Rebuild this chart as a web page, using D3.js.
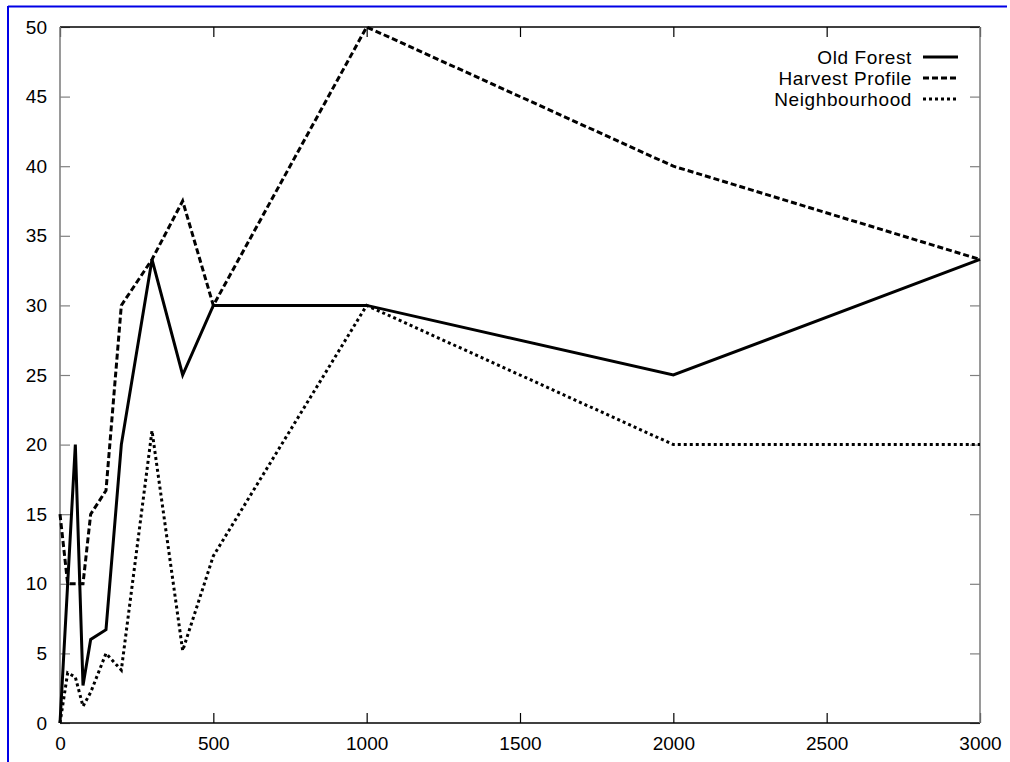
<!DOCTYPE html>
<html>
<head>
<meta charset="utf-8">
<script src="https://cdn.jsdelivr.net/npm/d3@7"></script>
<style>
  html, body { margin: 0; padding: 0; background: #fff; }
  svg { display: block; }
  text { font-family: "Liberation Sans", Arial, Helvetica, sans-serif; fill: #000; }
</style>
</head>
<body>
<svg id="chart" width="1010" height="762"></svg>
<script>
// Sample sizes along x, shared by all three series
const xValues = [0, 25, 50, 75, 100, 150, 200, 300, 400, 500, 1000, 2000, 3000];

const oldForest      = [0, 10, 20, 2.7, 6, 6.7, 20, 33.3, 25, 30, 30, 25, 33.3];
const harvestProfile = [15, 10, 10, 10, 15, 16.7, 30, 33.3, 37.5, 30, 50, 40, 33.3];
const neighbourhood  = [0, 3.6, 3.3, 1.2, 2.2, 5, 3.8, 21, 5.2, 12, 30, 20, 20];

const seriesNames = ["Old Forest", "Harvest Profile", "Neighbourhood"];
const xTicks = [0, 500, 1000, 1500, 2000, 2500, 3000];
const yTicks = [0, 5, 10, 15, 20, 25, 30, 35, 40, 45, 50];

(function draw() {
  const svg = d3.select("#chart");
  const H = 762;
  const mLeft = 60, mRight = 980, mTop = 27, mBottom = 723;
  const fontSize = 19;

  // frame lines in blue along the top and left edges
  svg.append("line").attr("x1", 8).attr("x2", 1007).attr("y1", 6.5).attr("y2", 6.5)
    .attr("stroke", "#0000e6").attr("stroke-width", 2);
  svg.append("line").attr("x1", 8).attr("x2", 8).attr("y1", 6).attr("y2", H)
    .attr("stroke", "#0000e6").attr("stroke-width", 2);

  const x = d3.scaleLinear().domain([0, 3000]).range([mLeft, mRight]);
  const y = d3.scaleLinear().domain([0, 50]).range([mBottom, mTop]);

  const tickLen = 10;

  // bottom axis: labels and inward ticks
  const gb = svg.append("g").attr("transform", `translate(0,${mBottom})`)
    .call(d3.axisBottom(x).tickValues(xTicks).tickSize(-tickLen).tickFormat(d3.format("d")));
  gb.select(".domain").remove();
  gb.selectAll(".tick line").attr("stroke", "#000").attr("stroke-width", 1.2);
  gb.selectAll(".tick text").attr("font-size", fontSize).attr("dy", "0.71em").attr("y", 14);

  // top axis: inward ticks only
  const gt = svg.append("g").attr("transform", `translate(0,${mTop})`)
    .call(d3.axisTop(x).tickValues(xTicks).tickSize(-tickLen).tickFormat(""));
  gt.select(".domain").remove();
  gt.selectAll(".tick line").attr("stroke", "#000").attr("stroke-width", 1.2);

  // left axis: labels and inward ticks
  const gl = svg.append("g").attr("transform", `translate(${mLeft},0)`)
    .call(d3.axisLeft(y).tickValues(yTicks).tickSize(-tickLen).tickFormat(d3.format("d")));
  gl.select(".domain").remove();
  gl.selectAll(".tick line").attr("stroke", "#808080").attr("stroke-width", 1.2);
  gl.selectAll(".tick text").attr("font-size", fontSize).attr("x", -13);

  // right axis: inward ticks only
  const gr = svg.append("g").attr("transform", `translate(${mRight},0)`)
    .call(d3.axisRight(y).tickValues(yTicks).tickSize(-tickLen).tickFormat(""));
  gr.select(".domain").remove();
  gr.selectAll(".tick line").attr("stroke", "#808080").attr("stroke-width", 1.2);

  // plot border: black top/bottom, grey left/right
  svg.append("line").attr("x1", mLeft).attr("x2", mRight).attr("y1", mTop).attr("y2", mTop)
    .attr("stroke", "#000").attr("stroke-width", 1.3);
  svg.append("line").attr("x1", mLeft).attr("x2", mRight).attr("y1", mBottom).attr("y2", mBottom)
    .attr("stroke", "#000").attr("stroke-width", 1.3);
  svg.append("line").attr("x1", mLeft).attr("x2", mLeft).attr("y1", mTop).attr("y2", mBottom)
    .attr("stroke", "#808080").attr("stroke-width", 1.6);
  svg.append("line").attr("x1", mRight).attr("x2", mRight).attr("y1", mTop).attr("y2", mBottom)
    .attr("stroke", "#808080").attr("stroke-width", 1.6);

  const dashes = [null, "6,3", "3,3"];
  const allSeries = [oldForest, harvestProfile, neighbourhood];

  const line = d3.line().x((d, i) => x(xValues[i])).y(d => y(d));

  allSeries.forEach((vals, k) => {
    const p = svg.append("path")
      .datum(vals)
      .attr("d", line)
      .attr("fill", "none")
      .attr("stroke", "#000")
      .attr("stroke-width", 3)
      .attr("stroke-linejoin", "miter");
    if (dashes[k]) p.attr("stroke-dasharray", dashes[k]);
  });

  // legend in the upper right
  const legendY = [57, 78, 99];
  seriesNames.forEach((name, k) => {
    svg.append("text")
      .attr("x", 912).attr("y", legendY[k])
      .attr("text-anchor", "end")
      .attr("dominant-baseline", "central")
      .attr("font-size", fontSize)
      .attr("letter-spacing", 0.6)
      .text(name);
    const l = svg.append("line")
      .attr("x1", 923).attr("x2", 958)
      .attr("y1", legendY[k]).attr("y2", legendY[k])
      .attr("stroke", "#000").attr("stroke-width", 3);
    if (dashes[k]) l.attr("stroke-dasharray", dashes[k]);
  });
})();
</script>
</body>
</html>
